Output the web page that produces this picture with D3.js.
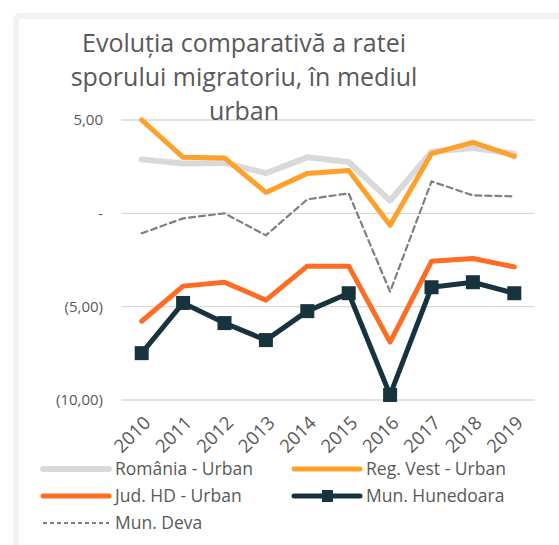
<!DOCTYPE html>
<html>
<head>
<meta charset="utf-8">
<script src="https://cdn.jsdelivr.net/npm/d3@7"></script>
<style>
  body { margin: 0; background: #fff; }
  svg { display: block; font-family: "Open Sans", sans-serif; }
</style>
</head>
<body>
<svg></svg>
<script>
let years = ["2010","2011","2012","2013","2014","2015","2016","2017","2018","2019"]
let romania = [2.89, 2.67, 2.7, 2.15, 3.0, 2.75, 0.68, 3.3, 3.5, 3.2]
let regVest = [5.0, 3.0, 2.97, 1.12, 2.14, 2.3, -0.64, 3.2, 3.8, 3.05]
let judHD = [-5.78, -3.9, -3.69, -4.65, -2.83, -2.83, -6.9, -2.57, -2.42, -2.87]
let hunedoara = [-7.49, -4.8, -5.88, -6.79, -5.24, -4.28, -9.73, -3.96, -3.69, -4.28]
let deva = [-1.07, -0.27, 0.0, -1.18, 0.75, 1.07, -4.2, 1.71, 0.96, 0.91]
let yTicks = [5, 0, -5, -10]
let titleLines = ["Evoluția comparativă a ratei", "sporului migratoriu, în mediul", "urban"]

let width = 559
let height = 545

let svg = d3.select('svg')
  .attr('width', width)
  .attr('height', height)

// frame
svg.append('rect')
  .attr('x', 16).attr('y', 16)
  .attr('width', 600).attr('height', 600)
  .attr('rx', 4)
  .attr('fill', '#fff')
  .attr('stroke', '#f2f2f2')
  .attr('stroke-width', 6)

let xScale = d3.scaleBand()
  .domain(years)
  .range([121, 535])

let yScale = d3.scaleLinear()
  .domain([-10, 5])
  .range([400, 120])

let fmt = (v) => {
  if (v === 0) return '-'
  let s = d3.format('.2f')(Math.abs(v)).replace('.', ',')
  return v < 0 ? '(' + s + ')' : s
}

// gridlines
svg.append('g')
  .selectAll('line')
  .data(yTicks)
  .enter()
  .append('line')
  .attr('x1', 121).attr('x2', 535)
  .attr('y1', (d) => yScale(d)).attr('y2', (d) => yScale(d))
  .attr('stroke', '#d9d9d9')
  .attr('stroke-width', 1.3)

// y axis labels
let yAxis = d3.axisLeft(yScale).tickValues(yTicks).tickFormat(fmt).tickSize(0).tickPadding(0)
let yg = svg.append('g')
  .attr('transform', 'translate(103,0)')
  .call(yAxis)
yg.select('.domain').remove()
yg.selectAll('text')
  .attr('fill', '#595959')
  .attr('font-size', 15)
  .attr('font-family', '"Open Sans", sans-serif')

// x axis labels
let xAxis = d3.axisBottom(xScale).tickSize(0).tickPadding(0)
let xg = svg.append('g')
  .attr('transform', 'translate(0,400)')
  .call(xAxis)
xg.select('.domain').remove()
xg.selectAll('text')
  .attr('fill', '#595959')
  .attr('font-size', 18.5)
  .attr('font-family', '"Open Sans", sans-serif')
  .attr('text-anchor', 'end')
  .attr('dy', null)
  .attr('y', 0)
  .attr('transform', 'translate(10,24) rotate(-45)')

let x = (d, i) => xScale(years[i]) + xScale.bandwidth() / 2
let line = d3.line().x(x).y((d) => yScale(d))

let drawSeries = (data, color, w, dash) => {
  svg.append('path')
    .datum(data)
    .attr('d', line)
    .attr('fill', 'none')
    .attr('stroke', color)
    .attr('stroke-width', w)
    .attr('stroke-linejoin', 'round')
    .attr('stroke-linecap', 'round')
    .attr('stroke-dasharray', dash)
}

drawSeries(romania, '#d9d9d9', 6, null)
drawSeries(regVest, '#ffa02a', 5, null)
drawSeries(judHD, '#ff6c23', 5, null)
drawSeries(hunedoara, '#17343e', 5, null)
drawSeries(deva, '#7f7f7f', 2.2, '6,4')

svg.append('g')
  .selectAll('rect')
  .data(hunedoara)
  .enter()
  .append('rect')
  .attr('x', (d, i) => x(d, i) - 7)
  .attr('y', (d) => yScale(d) - 7)
  .attr('width', 14)
  .attr('height', 14)
  .attr('fill', '#17343e')

// title
svg.append('g')
  .selectAll('text')
  .data(titleLines)
  .enter()
  .append('text')
  .attr('x', 244)
  .attr('y', (d, i) => 52 + i * 34)
  .attr('text-anchor', 'middle')
  .attr('fill', '#595959')
  .attr('font-size', 25)
  .text((d) => d)

// legend
let legend = [
  { name: 'România - Urban', color: '#d9d9d9', w: 6, col: 0, row: 0 },
  { name: 'Reg. Vest - Urban', color: '#ffa02a', w: 5, col: 1, row: 0 },
  { name: 'Jud. HD - Urban', color: '#ff6c23', w: 5, col: 0, row: 1 },
  { name: 'Mun. Hunedoara', color: '#17343e', w: 5, col: 1, row: 1, marker: true },
  { name: 'Mun. Deva', color: '#7f7f7f', w: 2, col: 0, row: 2, dash: '4,3' }
]
let lg = svg.append('g')
  .selectAll('g')
  .data(legend)
  .enter()
  .append('g')
  .attr('transform', (d) => 'translate(' + (d.col ? 294 : 43) + ',' + (469 + d.row * 27) + ')')
lg.append('line')
  .attr('x1', 0).attr('x2', 66)
  .attr('stroke', (d) => d.color)
  .attr('stroke-width', (d) => d.w)
  .attr('stroke-linecap', (d) => d.dash ? 'butt' : 'round')
  .attr('stroke-dasharray', (d) => d.dash || null)
lg.filter((d) => d.marker)
  .append('rect')
  .attr('x', 28).attr('y', -6)
  .attr('width', 11).attr('height', 12)
  .attr('fill', (d) => d.color)
lg.append('text')
  .attr('x', 72)
  .attr('y', 6)
  .attr('fill', '#595959')
  .attr('font-size', 17.5)
  .text((d) => d.name)
</script>
</body>
</html>
